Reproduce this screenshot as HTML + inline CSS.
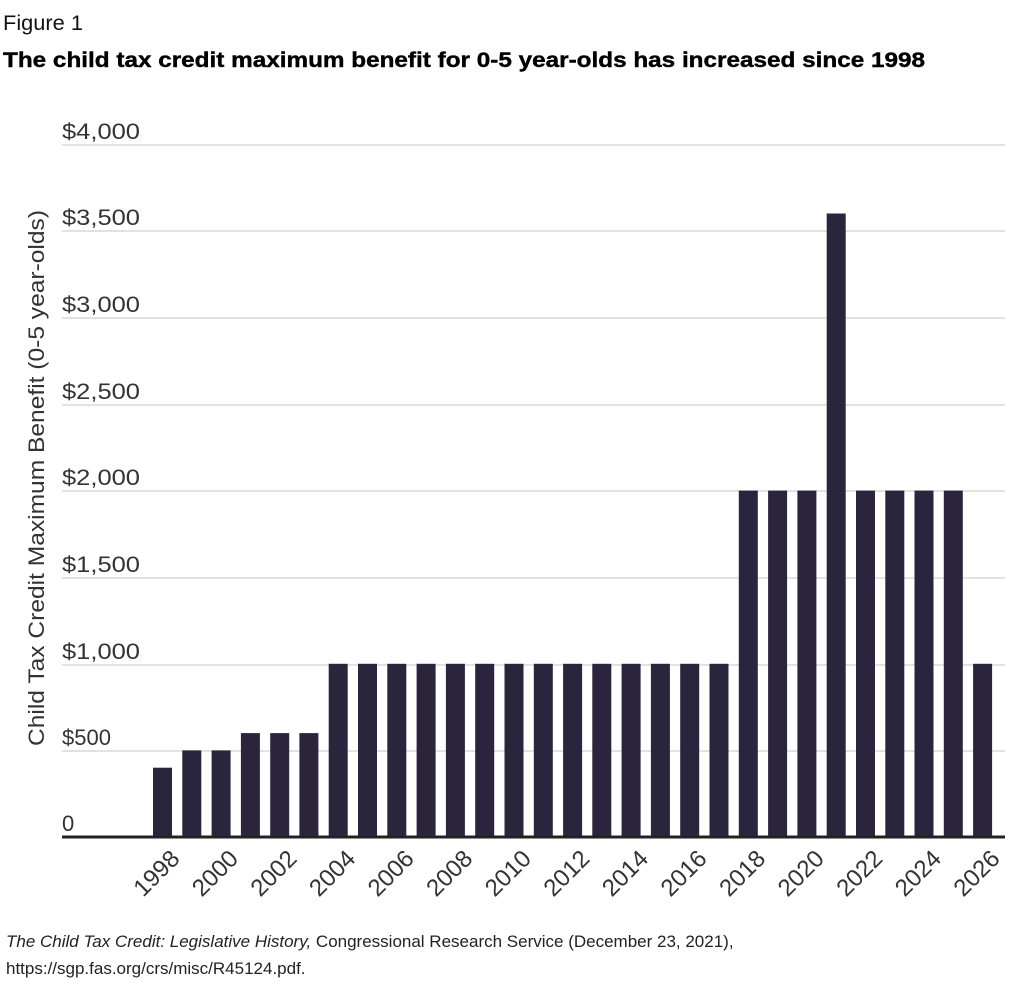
<!DOCTYPE html>
<html><head><meta charset="utf-8"><style>
body{margin:0;background:#fff;}
svg{display:block;font-family:"Liberation Sans",sans-serif;}
</style></head><body>
<svg width="1024" height="1006" viewBox="0 0 1024 1006">
<text x="3" y="30" font-size="21" fill="#111" textLength="80" lengthAdjust="spacingAndGlyphs">Figure 1</text>
<text x="3" y="67" font-size="21" font-weight="bold" fill="#000" stroke="#000" stroke-width="0.4" textLength="922" lengthAdjust="spacingAndGlyphs">The child tax credit maximum benefit for 0-5 year-olds has increased since 1998</text>
<g stroke="#d8d8d8" stroke-width="1.5">
<line x1="62" x2="1005" y1="145" y2="145"/>
<line x1="62" x2="1005" y1="231" y2="231"/>
<line x1="62" x2="1005" y1="318" y2="318"/>
<line x1="62" x2="1005" y1="405" y2="405"/>
<line x1="62" x2="1005" y1="491" y2="491"/>
<line x1="62" x2="1005" y1="578" y2="578"/>
<line x1="62" x2="1005" y1="665" y2="665"/>
<line x1="62" x2="1005" y1="751" y2="751"/>
</g>
<g font-size="22" fill="#333">
<text x="62" y="139" textLength="78" lengthAdjust="spacingAndGlyphs">$4,000</text>
<text x="62" y="225" textLength="78" lengthAdjust="spacingAndGlyphs">$3,500</text>
<text x="62" y="312" textLength="78" lengthAdjust="spacingAndGlyphs">$3,000</text>
<text x="62" y="399" textLength="78" lengthAdjust="spacingAndGlyphs">$2,500</text>
<text x="62" y="485" textLength="78" lengthAdjust="spacingAndGlyphs">$2,000</text>
<text x="62" y="572" textLength="78" lengthAdjust="spacingAndGlyphs">$1,500</text>
<text x="62" y="659" textLength="78" lengthAdjust="spacingAndGlyphs">$1,000</text>
<text x="62" y="745">$500</text>
<text x="62" y="831">0</text>
</g>
<text transform="translate(44,478) rotate(-90)" text-anchor="middle" font-size="22" fill="#333" textLength="536" lengthAdjust="spacingAndGlyphs">Child Tax Credit Maximum Benefit (0-5 year-olds)</text>
<g fill="#2a253d" id="bars"></g>
<line x1="62" x2="1005" y1="837" y2="837" stroke="#222" stroke-width="3"/>
<g id="labels" font-size="24" fill="#333"></g>
<text x="6" y="947" font-size="17" fill="#222"><tspan font-style="italic">The Child Tax Credit: Legislative History,</tspan> Congressional Research Service (December 23, 2021),</text>
<text x="6" y="974" font-size="17" fill="#222">https://sgp.fas.org/crs/misc/R45124.pdf.</text>
<script>
var vals=[400,500,500,600,600,600,1000,1000,1000,1000,1000,1000,1000,1000,1000,1000,1000,1000,1000,1000,2000,2000,2000,3600,2000,2000,2000,2000,1000];
var ns="http://www.w3.org/2000/svg",b=document.getElementById("bars"),l=document.getElementById("labels");
vals.forEach(function(v,i){
 var x=153+i*29.29,h=v*86.6/500;
 var r=document.createElementNS(ns,"rect");
 r.setAttribute("x",x.toFixed(1));r.setAttribute("width","19");
 r.setAttribute("y",(837-h).toFixed(1));r.setAttribute("height",h.toFixed(1));
 b.appendChild(r);
 if(i%2==0){
  var t=document.createElementNS(ns,"text");
  var cx=x+16,cy=848;
  t.setAttribute("transform","translate("+cx+","+cy+") rotate(-45)");
  t.setAttribute("text-anchor","end");t.setAttribute("dy","17");
  t.textContent=1998+i;l.appendChild(t);
 }
});
</script>
</svg>
</body></html>
